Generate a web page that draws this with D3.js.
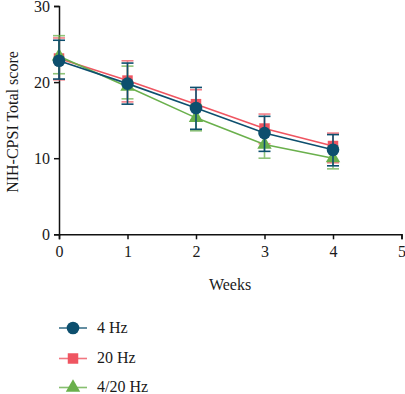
<!DOCTYPE html>
<html><head><meta charset="utf-8">
<script src="https://cdn.jsdelivr.net/npm/d3@7"></script>
<style>body{margin:0;background:#fff}svg{display:block}text{font-family:"Liberation Serif","Times New Roman",serif;fill:#1a1a1a}</style>
</head><body><svg id="c" width="405" height="394"></svg>
<script>
const weeks = [0, 1, 2, 3, 4];
const xTicks = [0, 1, 2, 3, 4, 5];
const yTicks = [0, 10, 20, 30];
const seriesNames = ["4 Hz", "20 Hz", "4/20 Hz"];
const mean4 = [22.8, 19.8, 16.6, 13.3, 11.1];
const up4 = [25.5, 22.5, 19.3, 15.5, 13.1];
const lo4 = [20.4, 17.1, 13.8, 10.9, 9.0];
const mean20 = [23.1, 20.2, 17.1, 13.9, 11.6];
const up20 = [25.8, 22.8, 19.0, 15.8, 13.3];
const lo20 = [20.3, 17.4, 15.0, 11.9, 9.4];
const mean420 = [23.4, 19.4, 15.3, 11.8, 10.0];
const up420 = [26.1, 22.1, 17.0, 13.6, 11.4];
const lo420 = [21.1, 17.8, 13.6, 10.0, 8.6];
const colors = ["#0d4f6e", "#ef5561", "#6ab04c"];

const series = [
  {name: seriesNames[1], mean: mean20, up: up20, lo: lo20, color: colors[1], shape: d3.symbolSquare, size: 110, op: 0.75},
  {name: seriesNames[2], mean: mean420, up: up420, lo: lo420, color: colors[2], shape: d3.symbolTriangle, size: 90, op: 0.75},
  {name: seriesNames[0], mean: mean4, up: up4, lo: lo4, color: colors[0], shape: d3.symbolCircle, size: 125, op: 1}
];

const svg = d3.select("#c");
const x = d3.scaleLinear().domain([0, 5]).range([59, 401.5]);
const y = d3.scaleLinear().domain([0, 30]).range([234.3, 6]);

const gx = svg.append("g").attr("transform", `translate(0,${y(0)})`)
  .call(d3.axisBottom(x).tickValues(xTicks).tickSize(5).tickPadding(6).tickFormat(d3.format("d")));
const gy = svg.append("g").attr("transform", `translate(${x(0)},0)`)
  .call(d3.axisLeft(y).tickValues(yTicks).tickSize(5).tickPadding(4).tickFormat(d3.format("d")));
[gx, gy].forEach(g => {
  g.select(".domain").attr("stroke", "#111").attr("stroke-width", 1.5);
  g.selectAll(".tick line").attr("stroke", "#111").attr("stroke-width", 1.5);
  g.selectAll(".tick text").style("font-family", '"Liberation Serif",serif').style("font-size", "16px").attr("fill", "#1a1a1a");
});

svg.append("text").attr("x", 230).attr("y", 290).attr("text-anchor", "middle")
  .style("font-size", "16px").text("Weeks");
svg.append("text").attr("transform", "translate(18,122) rotate(-90)").attr("text-anchor", "middle")
  .style("font-size", "16px").text("NIH-CPSI Total score");

const line = d3.line().x((d, i) => x(weeks[i])).y(d => y(d));

series.forEach(s => {
  const g = svg.append("g");
  g.append("path").datum(s.mean).attr("d", line).attr("fill", "none")
    .attr("stroke", s.color).attr("stroke-width", 1.6);
  weeks.forEach((w, i) => {
    const eb = g.append("g").attr("stroke", s.color).attr("stroke-width", 1.6).attr("opacity", s.op);
    eb.append("line").attr("x1", x(w)).attr("x2", x(w)).attr("y1", y(s.up[i])).attr("y2", y(s.lo[i]));
    eb.append("line").attr("x1", x(w) - 6).attr("x2", x(w) + 6).attr("y1", y(s.up[i])).attr("y2", y(s.up[i]));
    eb.append("line").attr("x1", x(w) - 6).attr("x2", x(w) + 6).attr("y1", y(s.lo[i])).attr("y2", y(s.lo[i]));
    g.append("path").attr("d", d3.symbol().type(s.shape).size(s.size)())
      .attr("transform", `translate(${x(w)},${y(s.mean[i])})`).attr("fill", s.color);
  });
});

// legend
const legendY = [328, 358.5, 387.5];
const legOrder = [
  {name: seriesNames[0], color: colors[0], shape: d3.symbolCircle, size: 125},
  {name: seriesNames[1], color: colors[1], shape: d3.symbolSquare, size: 110},
  {name: seriesNames[2], color: colors[2], shape: d3.symbolTriangle, size: 90}
];
legOrder.forEach((s, i) => {
  const g = svg.append("g").attr("transform", `translate(0,${legendY[i]})`);
  g.append("line").attr("x1", 59).attr("x2", 87).attr("stroke", s.color).attr("stroke-width", 1.6).attr("opacity", 0.8);
  g.append("path").attr("d", d3.symbol().type(s.shape).size(s.size)()).attr("transform", "translate(73,0)").attr("fill", s.color);
  g.append("text").attr("x", 97).attr("y", 4.5).style("font-size", "16px").text(s.name);
});
</script></body></html>
